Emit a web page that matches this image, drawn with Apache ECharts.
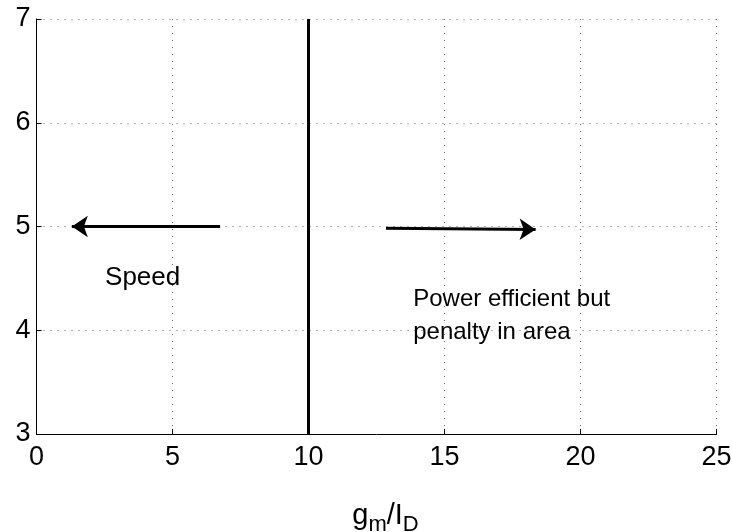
<!DOCTYPE html>
<html>
<head>
<meta charset="utf-8">
<script src="https://cdn.jsdelivr.net/npm/echarts@6/dist/echarts.min.js"></script>
<style>html,body{margin:0;padding:0;background:#fff}#c{width:732px;height:532px}</style>
</head>
<body>
<div id="c"></div>
<script>
// Axis ranges and ticks
const xTicks = [0, 5, 10, 15, 20, 25];
const yTicks = [3, 4, 5, 6, 7];
// Vertical divider at gm/ID = 10
const dividerX = [10, 10];
const dividerY = [3, 7];
// Arrows (start -> end)
const leftArrowX = [6.75, 1.3];
const leftArrowY = [5.0, 5.0];
const rightArrowX = [12.85, 18.35];
const rightArrowY = [4.983, 4.972];
// Annotations
const noteText = ['Speed', 'Power efficient but', 'penalty in area'];
const noteX = [2.52, 13.85, 13.85];
const noteY = [4.51, 4.30, 3.98];

const FONT = "'Liberation Sans', Arial, Helvetica, sans-serif";
const chart = echarts.init(document.getElementById('c'), null, {renderer: 'canvas'});
const gridLine = {show: true, lineStyle: {color: '#666', width: 1, type: [1, 6]}};
chart.setOption({
  animation: false,
  backgroundColor: '#fff',
  grid: {left: 36.5, right: 15.5, top: 19, bottom: 98, containLabel: false, outerBoundsMode: 'none'},
  xAxis: {
    type: 'value', min: xTicks[0], max: xTicks[xTicks.length - 1], interval: 5,
    axisLine: {show: true, onZero: false, lineStyle: {color: '#000', width: 1}},
    axisTick: {show: true, inside: true, length: 5, lineStyle: {color: '#000'}},
    axisLabel: {color: '#000', fontSize: 27, fontFamily: FONT, margin: 10},
    splitLine: gridLine,
    name: '{a|g}{s|m}{a|/I}{s|D}',
    nameLocation: 'middle', nameGap: 62,
    nameTextStyle: {
      padding: [0, 0, 0, 18],
      rich: {
        a: {fontSize: 29, fontFamily: FONT, color: '#000'},
        s: {fontSize: 22, fontFamily: FONT, color: '#000', padding: [18, 0, 0, 0]}
      }
    }
  },
  yAxis: {
    type: 'value', min: yTicks[0], max: yTicks[yTicks.length - 1], interval: 1,
    axisLine: {show: true, onZero: false, lineStyle: {color: '#000', width: 1}},
    axisTick: {show: true, inside: true, length: 5, lineStyle: {color: '#000'}},
    axisLabel: {color: '#000', fontSize: 27, fontFamily: FONT, margin: 6},
    splitLine: gridLine
  },
  series: [
    {
      type: 'line', data: dividerX.map((x, i) => [x, dividerY[i]]),
      symbol: 'none', lineStyle: {color: '#000', width: 3}, silent: true
    },
    {
      type: 'lines', coordinateSystem: 'cartesian2d', polyline: false,
      symbol: ['none', 'arrow'], symbolSize: 16,
      lineStyle: {color: '#000', width: 3, opacity: 1},
      data: [
        {coords: [[leftArrowX[0], leftArrowY[0]], [leftArrowX[1], leftArrowY[1]]]},
        {coords: [[rightArrowX[0], rightArrowY[0]], [rightArrowX[1], rightArrowY[1]]]}
      ],
      silent: true
    },
    {
      type: 'scatter', symbolSize: 0, silent: true,
      itemStyle: {opacity: 1, color: '#000'},
      data: noteText.map((t, i) => ({
        value: [noteX[i], noteY[i]], name: t,
        label: i === 0 ? {fontSize: 26} : {}
      })),
      label: {
        show: true, position: 'right', distance: 0,
        formatter: p => p.name,
        color: '#000', fontSize: 24, fontFamily: FONT
      }
    }
  ]
});
</script>
</body>
</html>
